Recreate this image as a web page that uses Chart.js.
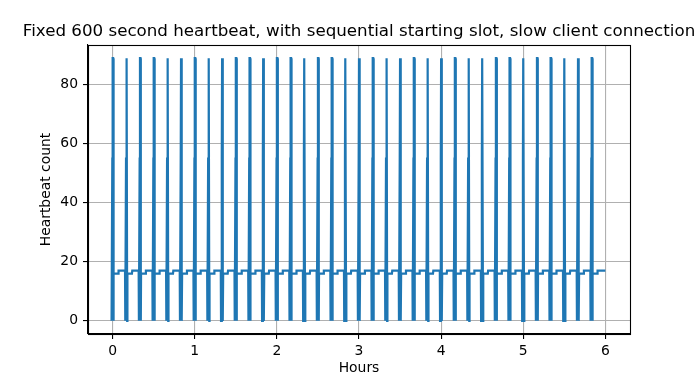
<!DOCTYPE html>
<html><head><meta charset="utf-8">
<script src="https://cdn.jsdelivr.net/npm/chart.js@4.4.1/dist/chart.umd.min.js"></script>
<style>html,body{margin:0;padding:0;background:#fff}canvas{display:block}</style>
</head><body>
<div style="width:700px;height:375px"><canvas id="c" width="700" height="375"></canvas></div>
<script>
// Spike times (hours): one every 600 s
const spikeHours = [0.000,0.167,0.333,0.500,0.667,0.833,1.000,1.167,1.333,1.500,1.667,1.833,
                    2.000,2.167,2.333,2.500,2.667,2.833,3.000,3.167,3.333,3.500,3.667,3.833,
                    4.000,4.167,4.333,4.500,4.667,4.833,5.000,5.167,5.333,5.500,5.667,5.833];
// Shape of one 600 s cycle around a spike (offset in hours, heartbeat count)
const cycleOffsets = [-0.016,-0.013,-0.004,0.000,0.006,0.010,0.013,0.068,0.072];
const cycleValues  = [17, 0, 55, 89, 89, 0, 16, 16, 17];
const endHour = 6.0;
const endValue = 17;
const xTicks = [0,1,2,3,4,5,6];
const yTicks = [0,20,40,60,80];

const titleText = 'Fixed 600 second heartbeat, with sequential starting slot, slow client connection';
const xLabel = 'Hours';
const yLabel = 'Heartbeat count';

const points = [];
spikeHours.forEach((h, i) => {
  cycleOffsets.forEach((o, j) => {
    if (i === 0 && j === 0) return;
    points.push({x: h + o, y: cycleValues[j]});
  });
});
points.push({x: endHour, y: endValue});

Chart.defaults.font.family = "'DejaVu Sans', sans-serif";
Chart.defaults.font.size = 13.9;
Chart.defaults.color = '#000';

const boxPlugin = {
  id: 'box',
  afterDraw(chart) {
    const {ctx, chartArea: a} = chart;
    ctx.save();
    ctx.strokeStyle = '#000';
    ctx.lineWidth = 1.1;
    ctx.strokeRect(Math.round(a.left) + 0.5, Math.round(a.top) + 0.5,
                   Math.round(a.right - a.left), Math.round(a.bottom - a.top));
    ctx.restore();
  }
};

const gridOpts = {color: '#b0b0b0', lineWidth: 1.1, tickColor: '#000', tickLength: 5, tickWidth: 1.1};

new Chart(document.getElementById('c').getContext('2d'), {
  type: 'line',
  data: {datasets: [{data: points, borderColor: '#1f77b4', borderWidth: 2.2,
                     pointRadius: 0, tension: 0, fill: false}]},
  options: {
    responsive: false, animation: false, events: [],
    layout: {padding: {left: 18, right: 0, top: 0, bottom: 0}},
    plugins: {
      legend: {display: false}, tooltip: {enabled: false},
      title: {display: true, text: titleText, color: '#000',
              font: {size: 16.7, weight: 'normal'}, padding: {top: 22, bottom: 3}}
    },
    scales: {
      x: {type: 'linear', min: -0.3, max: 6.3,
          afterBuildTicks: s => { s.ticks = xTicks.map(v => ({value: v})); },
          afterFit: s => { s.height = 41; },
          ticks: {padding: 4, autoSkip: false, maxRotation: 0, callback: v => String(v)},
          grid: gridOpts, border: {color: '#000', width: 1.1},
          title: {display: true, text: xLabel, padding: {top: 0, bottom: -2}}},
      y: {type: 'linear', position: 'left', min: -4.45, max: 93.45,
          afterBuildTicks: s => { s.ticks = yTicks.map(v => ({value: v})); },
          afterFit: s => { s.width = 70; },
          ticks: {padding: 5, callback: v => String(v)},
          grid: gridOpts, border: {color: '#000', width: 1.1},
          title: {display: true, text: yLabel, padding: {top: 19.7, bottom: 0}}},
      yr: {type: 'linear', position: 'right', min: -4.45, max: 93.45,
           afterFit: s => { s.width = 70; },
           ticks: {display: false}, grid: {display: false}, border: {display: false}}
    }
  },
  plugins: [boxPlugin]
});
</script>
</body></html>
